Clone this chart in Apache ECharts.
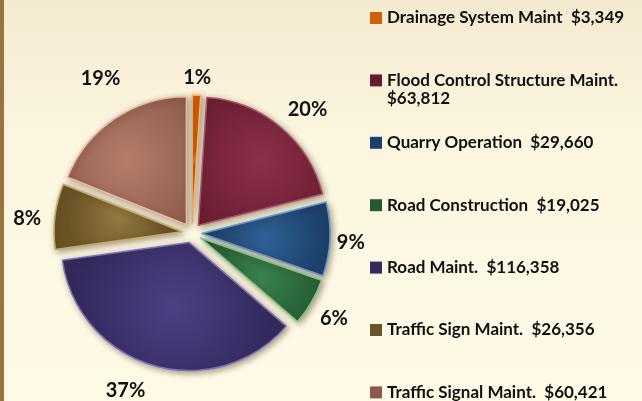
<!DOCTYPE html>
<html>
<head>
<meta charset="utf-8">
<script src="https://cdn.jsdelivr.net/npm/echarts@6/dist/echarts.min.js"></script>
<style>
  html, body { margin: 0; padding: 0; }
  #wrap { position: relative; width: 642px; height: 401px; }
  #chart { width: 642px; height: 401px; }
  #edge { position: absolute; left: 0; top: 0; width: 4px; height: 401px; background: #9c733a; }
</style>
</head>
<body>
<div id="wrap">
  <div id="chart"></div>
  <div id="edge"></div>
</div>
<script>
const categories = [
  'Drainage System Maint',
  'Flood Control Structure Maint.',
  'Quarry Operation',
  'Road Construction',
  'Road Maint.',
  'Traffic Sign Maint.',
  'Traffic Signal Maint.'
];
const amounts = [3349, 63812, 29660, 19025, 116358, 26356, 60421];

// light centre / dark edge per slice
const lightColors = ['#f7923a', '#8c3049', '#2f6196', '#3a8150', '#4b4184', '#927a42', '#b47d6a'];
const darkColors  = ['#d2600a', '#661a30', '#1c416b', '#245a32', '#332a5e', '#6a5427', '#8c5a4a'];
const rimColors   = ['#fbb36e', '#b0506a', '#5f9ad6', '#7cc48c', '#7a6fc0', '#c9a968', '#f0b8a4'];
// how far each % label sits past its slice, plus a small nudge (Excel "best fit" look)
const labelGaps   = [18, 30, 21, 27, 30, 28, 43];
const labelNudge  = [[-5, 0], [3, 6], [-5, 3], [-6, 3], [-14, -4], [5, 6], [15, -5]];

const FONT = 'Lato';

const chart = echarts.init(document.getElementById('chart'));

function money(v) {
  return '$' + v.toLocaleString('en-US');
}

const pieData = categories.map((name, i) => ({
  name: name,
  value: amounts[i],
  selected: true,
  labelLine: { show: false, length: labelGaps[i], length2: 0 },
  itemStyle: {
    color: {
      type: 'radial', x: 0.5, y: 0.5, r: 0.75,
      colorStops: [
        { offset: 0, color: lightColors[i] },
        { offset: 1, color: darkColors[i] }
      ]
    },
    borderColor: rimColors[i]
  }
}));

// one legend per item so rows sit on a fixed pitch
const legends = categories.map((name, i) => {
  const centre = 18 + i * 62.4;
  const wrap = name.length > 25;
  return {
    data: [{ name: name, itemStyle: { color: darkColors[i], borderWidth: 0 } }],
    orient: 'vertical',
    left: 370,
    // wrapped item: blank first line keeps the icon level with the name line
    top: wrap ? centre - 27 : centre - 9,
    padding: 0,
    itemWidth: 12,
    itemHeight: 12,
    icon: 'rect',
    selectedMode: false,
    formatter: n => wrap ? ' \n' + n + '\n' + money(amounts[i]) : n + '  ' + money(amounts[i]),
    textStyle: {
      fontFamily: FONT,
      fontWeight: 'bold',
      fontSize: 17,
      color: '#111',
      lineHeight: 18
    }
  };
});

chart.setOption({
  backgroundColor: {
    type: 'linear', x: 0, y: 0, x2: 0, y2: 1,
    colorStops: [
      { offset: 0, color: '#f4ead0' },
      { offset: 0.35, color: '#fcf6e0' },
      { offset: 1, color: '#fefae6' }
    ]
  },
  animation: false,
  legend: legends,
  series: [
    {
      type: 'pie',
      center: [192, 233],
      radius: 128,
      startAngle: 90,
      clockwise: true,
      selectedMode: 'multiple',
      selectedOffset: 10,
      percentPrecision: 0,
      avoidLabelOverlap: false,
      itemStyle: {
        borderWidth: 1.5,
        shadowColor: 'rgba(60, 40, 10, 0.45)',
        shadowBlur: 6,
        shadowOffsetX: 2,
        shadowOffsetY: 2
      },
      label: {
        show: true,
        position: 'outside',
        formatter: '{d}%',
        fontFamily: FONT,
        fontWeight: 'bold',
        fontSize: 20,
        color: '#111'
      },
      labelLayout: function (params) {
        const n = labelNudge[params.dataIndex];
        return { align: 'center', verticalAlign: 'middle', dx: n[0], dy: n[1] };
      },
      emphasis: { disabled: true },
      data: pieData
    }
  ]
});
</script>
</body>
</html>
